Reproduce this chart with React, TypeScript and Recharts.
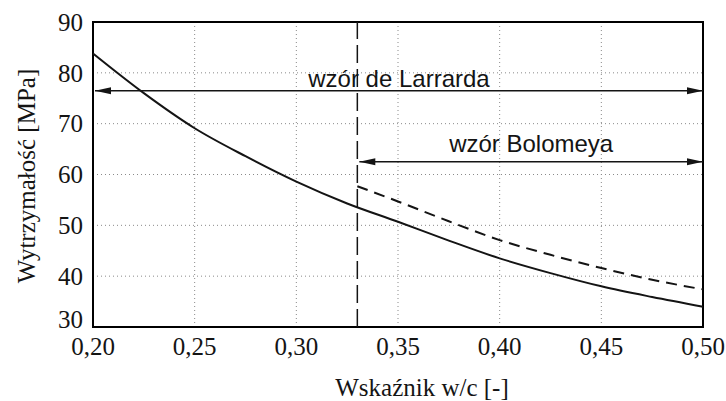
import {
  CartesianGrid,
  Line,
  LineChart,
  ReferenceArea,
  ReferenceLine,
  XAxis,
  YAxis,
} from "recharts";

// w/c ratio and strength [MPa]
const wcLarrard = [0.2, 0.225, 0.25, 0.275, 0.3, 0.325, 0.35, 0.375, 0.4, 0.425, 0.45, 0.475, 0.5];
const larrard = [83.8, 76.0, 69.1, 63.6, 58.6, 54.3, 50.7, 47.0, 43.5, 40.6, 38.0, 35.9, 34.0];

const wcBolomey = [0.33, 0.35, 0.375, 0.4, 0.425, 0.45, 0.475, 0.5];
const bolomey = [57.7, 54.7, 50.8, 47.1, 44.2, 41.6, 39.3, 37.4];

const xTicks = [0.2, 0.25, 0.3, 0.35, 0.4, 0.45, 0.5];
const yTicks = [30, 40, 50, 60, 70, 80, 90];

const limitWc = 0.33;
const larrardRange = { from: 0.2, to: 0.5, level: 76.5, label: "wzór de Larrarda" };
const bolomeyRange = { from: 0.33, to: 0.5, level: 62.5, label: "wzór Bolomeya" };

const larrardData = wcLarrard.map((w, i) => ({ w, v: larrard[i] }));
const bolomeyData = wcBolomey.map((w, i) => ({ w, v: bolomey[i] }));

const serifFont = "serif";
const sansFont = "Liberation Sans, Arial, sans-serif";
const ink = "#141414";

function XTick({ x, y, payload }: any) {
  return (
    <text x={x} y={y + 2} dy="0.71em" textAnchor="middle" fontFamily={serifFont} fontSize={25} fill={ink}>
      {payload.value.toFixed(2).replace(".", ",")}
    </text>
  );
}

function YTick({ x, y, payload }: any) {
  const shift = payload.value === 30 ? -8 : 0;
  return (
    <text x={x - 2} y={y + shift} dy="0.35em" textAnchor="end" fontFamily={serifFont} fontSize={25} fill={ink}>
      {payload.value}
    </text>
  );
}

// double-headed arrow with a caption above it
function arrow(label: string, gap: number) {
  return (p: any) => {
    const { x1, y1, x2 } = p;
    const l = x1 + 2;
    return (
      <g>
        <line x1={l} y1={y1} x2={x2} y2={y1} stroke={ink} strokeWidth={1.5} />
        <polygon points={`${l},${y1} ${l + 16},${y1 - 3.5} ${l + 16},${y1 + 3.5}`} fill={ink} />
        <polygon points={`${x2},${y1} ${x2 - 16},${y1 - 3.5} ${x2 - 16},${y1 + 3.5}`} fill={ink} />
        <text x={(x1 + x2) / 2 + 1} y={y1 - gap} textAnchor="middle" fontFamily={sansFont} fontSize={24} fill={ink}>
          {label}
        </text>
      </g>
    );
  };
}

export default function App() {
  return (
    <div style={{ position: "absolute", left: 0, top: 0, background: "#fff", fontFamily: serifFont }}>
      <LineChart width={726} height={401} margin={{ top: 22, right: 23, bottom: 0, left: 33 }}>
        <CartesianGrid stroke="#8a8a8a" strokeDasharray="1 3" />
        <XAxis
          type="number"
          dataKey="w"
          domain={[0.2, 0.5]}
          ticks={xTicks}
          interval={0}
          height={74}
          axisLine={false}
          tickLine={false}
          tick={<XTick />}
          label={{
            value: "Wskaźnik w/c [-]",
            position: "insideBottom",
            offset: 5,
            dx: 24,
            fontSize: 25,
            fill: ink,
            fontFamily: serifFont,
          }}
        />
        <YAxis
          type="number"
          domain={[30, 90]}
          ticks={yTicks}
          interval={0}
          width={60}
          axisLine={false}
          tickLine={false}
          tick={<YTick />}
          label={{
            content: () => (
              <text
                x={35}
                y={176}
                transform="rotate(-90 35 176)"
                textAnchor="middle"
                fontFamily={serifFont}
                fontSize={25}
                fill={ink}
              >
                Wytrzymałość [MPa]
              </text>
            ),
          }}
        />
        <ReferenceArea x1={0.2} x2={0.5} y1={30} y2={90} fill="none" stroke="#000" strokeWidth={2} />
        <ReferenceLine x={limitWc} stroke={ink} strokeWidth={1.5} strokeDasharray="18 6" />
        <ReferenceLine
          segment={[
            { x: larrardRange.from, y: larrardRange.level },
            { x: larrardRange.to, y: larrardRange.level },
          ]}
          shape={arrow(larrardRange.label, 4)}
        />
        <ReferenceLine
          segment={[
            { x: bolomeyRange.from, y: bolomeyRange.level },
            { x: bolomeyRange.to, y: bolomeyRange.level },
          ]}
          shape={arrow(bolomeyRange.label, 10)}
        />
        <Line
          data={larrardData}
          dataKey="v"
          type="monotone"
          stroke={ink}
          strokeWidth={2}
          dot={false}
          isAnimationActive={false}
        />
        <Line
          data={bolomeyData}
          dataKey="v"
          type="monotone"
          stroke={ink}
          strokeWidth={2}
          strokeDasharray="11 7"
          dot={false}
          isAnimationActive={false}
        />
      </LineChart>
    </div>
  );
}
